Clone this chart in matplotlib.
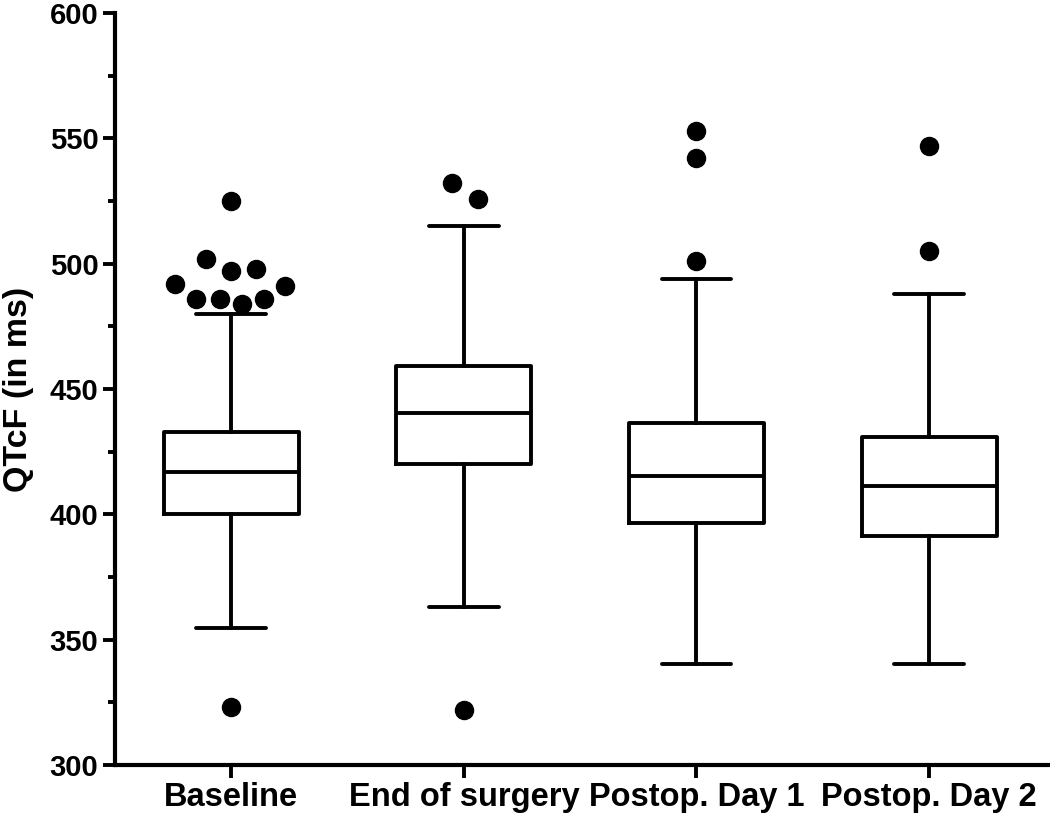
import matplotlib
matplotlib.use("Agg")
import matplotlib.pyplot as plt
from matplotlib.ticker import MultipleLocator

plt.rcParams['font.family'] = ['Liberation Sans', 'DejaVu Sans']
plt.rcParams['font.weight'] = 'bold'

categories = ["Baseline", "End of surgery", "Postop. Day 1", "Postop. Day 2"]
q1 = [400, 420, 396.5, 391.3]
median = [417, 440.5, 415.3, 411.5]
q3 = [433, 459, 436.4, 431]
whisker_low = [354.5, 363, 340.5, 340.5]
whisker_high = [480, 515, 494, 488]
outliers = [
    [525, 502, 492, 497, 498, 491, 486, 486, 484, 486, 323],
    [532, 526, 322],
    [553, 542, 501],
    [547, 505],
]
# horizontal spread of outlier dots (category units), as laid out in the figure
outlier_dx = [
    [0.0, -0.11, -0.24, 0.0, 0.105, 0.23, -0.15, -0.05, 0.045, 0.14, 0.0],
    [-0.05, 0.06, 0.0],
    [0.0, 0.0, 0.0],
    [0.0, 0.0],
]

fig = plt.figure(figsize=(10.5, 8.13), dpi=100)
ax = fig.add_axes([0.1095, 0.059, 0.8905, 0.925])

positions = list(range(len(categories)))
stats = []
for i in positions:
    stats.append(dict(med=median[i], q1=q1[i], q3=q3[i],
                      whislo=whisker_low[i], whishi=whisker_high[i],
                      fliers=[], label=categories[i]))

lw = 2.8
ax.bxp(stats, positions=positions, widths=0.58, showfliers=False,
       boxprops=dict(color='black', linewidth=lw),
       medianprops=dict(color='black', linewidth=lw),
       whiskerprops=dict(color='black', linewidth=lw),
       capprops=dict(color='black', linewidth=lw, solid_capstyle='round'),
       capwidths=0.30)

for i in positions:
    xs = [i + d for d in outlier_dx[i]]
    ax.plot(xs, outliers[i], 'o', color='black', markersize=13, linestyle='none')

ax.set_xlim(-0.5, 3.52)
ax.set_ylim(300, 600)
ax.yaxis.set_major_locator(MultipleLocator(50))
ax.yaxis.set_minor_locator(MultipleLocator(25))
ax.set_xticks(positions)
ax.set_xticklabels(categories, fontsize=23.5, fontweight='bold')
ax.tick_params(axis='y', which='major', length=9, width=2.8, labelsize=21, pad=3)
ax.tick_params(axis='y', which='minor', length=5, width=2.8)
ax.tick_params(axis='x', which='major', length=9, width=2.8, pad=3)
for lab in ax.get_yticklabels():
    lab.set_fontweight('bold')

ax.spines['top'].set_visible(False)
ax.spines['right'].set_visible(False)
ax.spines['left'].set_linewidth(3)
ax.spines['bottom'].set_linewidth(3)
ax.spines['left'].set_bounds(300, 600)

ax.set_ylabel("QTcF (in ms)", fontsize=24.5, fontweight='bold', labelpad=11)

fig.savefig("out.png", dpi=100)
